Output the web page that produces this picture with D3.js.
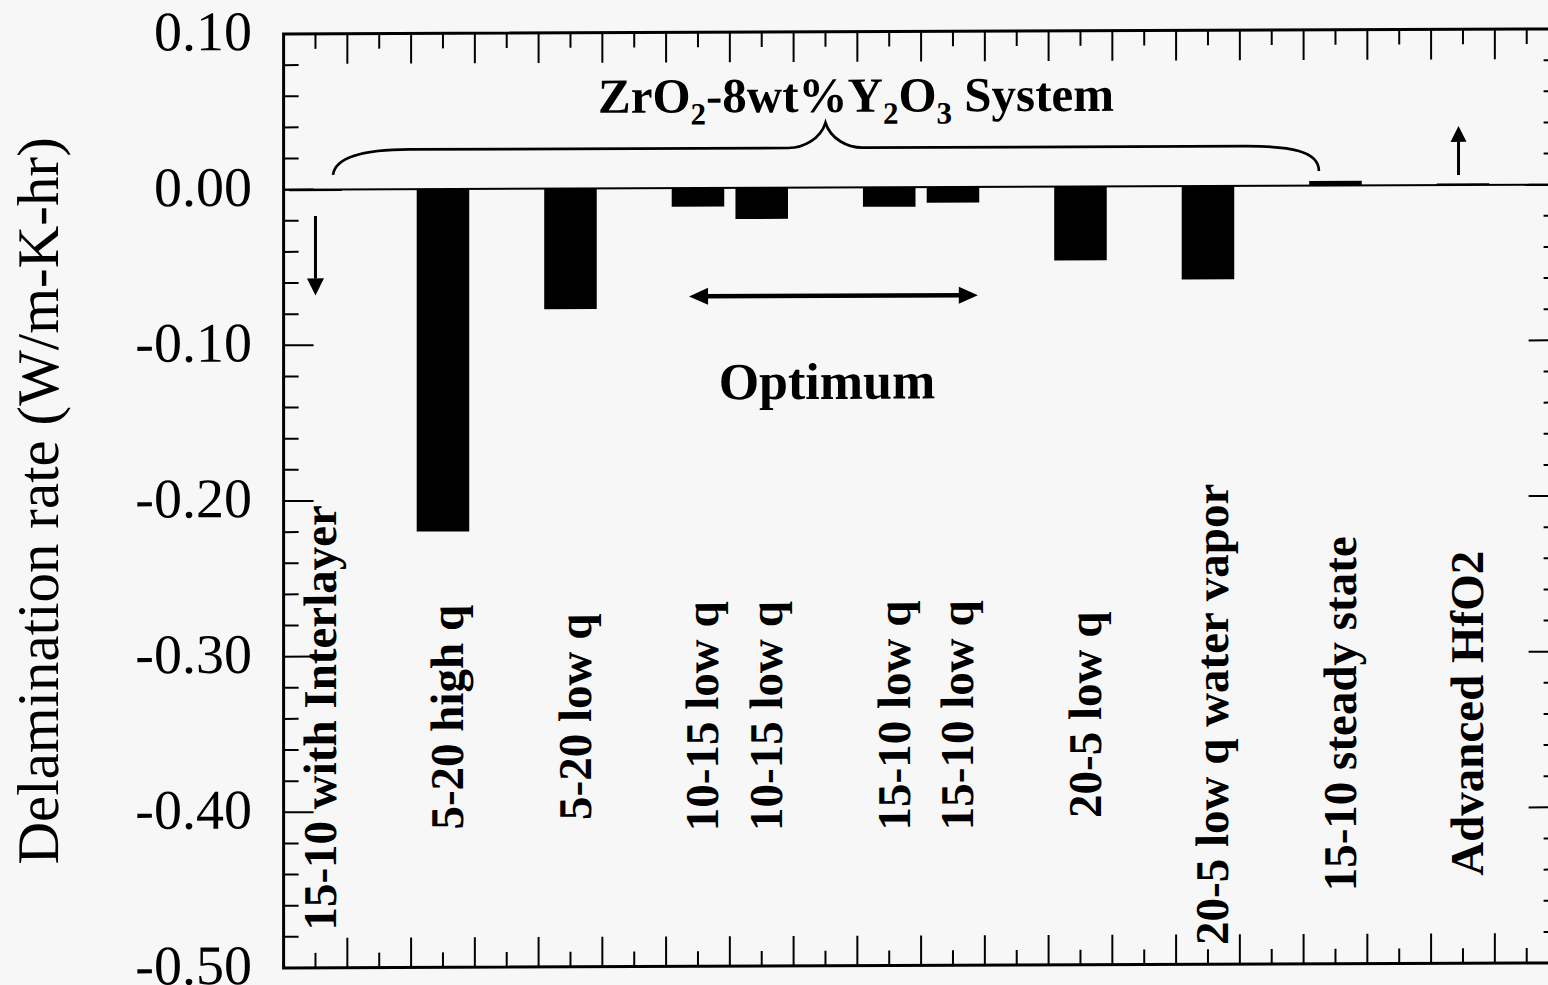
<!DOCTYPE html>
<html><head><meta charset="utf-8">
<script src="https://cdn.jsdelivr.net/npm/d3@7"></script>
<style>html,body{margin:0;padding:0;background:#f7f7f7;overflow:hidden;} svg{display:block;}</style>
</head><body><svg id="chart" width="1548" height="985"></svg>
<script>
// ---- data ----
const categories = ["15-10 with Interlayer", null, "5-20 high q", null, "5-20 low q", null,
  "10-15 low q", "10-15 low q", null, "15-10 low q", "15-10 low q", null,
  "20-5 low q", null, "20-5 low q water vapor", null, "15-10 steady state", null, "Advanced HfO2", null];
const values = [-0.001, null, -0.22, null, -0.0775, null,
  -0.012, -0.020, null, -0.0125, -0.010, null,
  -0.0475, null, -0.060, null, 0.003, null, 0.001, null];
const yTicks = [0.10, 0.00, -0.10, -0.20, -0.30, -0.40, -0.50];
const yTickLabels = ["0.10", "0.00", "-0.10", "-0.20", "-0.30", "-0.40", "-0.50"];
const yTitle = "Delamination rate (W/m-K-hr)";
const optimumLabel = "Optimum";

// ---- layout ----
const W = 1548, H = 985;
const pL = 283.6, pR = 1558.6, pT = 34, pB = 968;
const FONT = "'Liberation Serif','Times New Roman',Times,serif";

const svg = d3.select("#chart");
svg.append("rect").attr("width", W).attr("height", H).attr("fill", "#f7f7f7");
// the scanned original is slightly sheared
const g = svg.append("g")
  .attr("transform", `translate(${pL},0) skewY(-0.226) translate(${-pL},0)`);

const slots = d3.range(categories.length);
const x = d3.scaleBand().domain(slots).range([pL, pR]).paddingInner(0.176).paddingOuter(0.088);
const xs = d3.scaleLinear().domain([0, categories.length]).range([pL, pR]);
const y = d3.scaleLinear().domain([-0.5, 0.1]).range([pB, pT]);

// frame
g.append("rect").attr("x", pL).attr("y", pT).attr("width", pR - pL).attr("height", pB - pT)
  .attr("fill", "none").attr("stroke", "#000").attr("stroke-width", 3);

// x ticks (top & bottom, inward)
const xMajor = d3.range(1, categories.length);
const xMinor = slots.map(i => i + 0.5);
const tickG = g.append("g").attr("stroke", "#000").attr("stroke-width", 2);
[[xMajor, 30], [xMinor, 15]].forEach(([arr, len]) => {
  arr.forEach(v => {
    tickG.append("line").attr("x1", xs(v)).attr("x2", xs(v)).attr("y1", pB).attr("y2", pB - len);
    tickG.append("line").attr("x1", xs(v)).attr("x2", xs(v)).attr("y1", pT).attr("y2", pT + len);
  });
});
// y ticks (left & right, inward)
const yMinor = d3.range(-25, 6).map(k => k * 0.02).filter(v => !yTicks.some(t => Math.abs(t - v) < 1e-9));
[[yTicks, 30], [yMinor, 15]].forEach(([arr, len]) => {
  arr.forEach(v => {
    tickG.append("line").attr("x1", pL).attr("x2", pL + len).attr("y1", y(v)).attr("y2", y(v));
    tickG.append("line").attr("x1", pR).attr("x2", pR - len).attr("y1", y(v)).attr("y2", y(v));
  });
});

// y tick labels
g.append("g").selectAll("text").data(yTicks).join("text")
  .attr("x", 252).attr("y", d => y(d) + 16)
  .attr("text-anchor", "end").attr("font-family", FONT).attr("font-size", 56).attr("fill", "#000")
  .text((d, i) => yTickLabels[i]);

// y title
g.append("text").attr("transform", "translate(58,500) rotate(-90)")
  .attr("text-anchor", "middle").attr("font-family", FONT).attr("font-size", 59).attr("fill", "#000")
  .text(yTitle);

// zero line
g.append("line").attr("x1", pL).attr("x2", pR).attr("y1", y(0)).attr("y2", y(0))
  .attr("stroke", "#000").attr("stroke-width", 2);

// bars
const barData = slots.filter(i => values[i] !== null).map(i => ({ i, v: values[i], name: categories[i] }));
g.append("g").selectAll("rect").data(barData).join("rect")
  .attr("x", d => x(d.i)).attr("width", x.bandwidth())
  .attr("y", d => y(Math.max(0, d.v)))
  .attr("height", d => Math.abs(y(d.v) - y(0)))
  .attr("fill", "#000");

// category labels
g.append("g").selectAll("text").data(barData).join("text")
  .attr("transform", d => `translate(${x(d.i) + x.bandwidth() / 2 + 20.5},718) rotate(-90)`)
  .attr("text-anchor", "middle").attr("font-family", FONT).attr("font-weight", "bold")
  .attr("font-size", 47).attr("fill", "#000")
  .text(d => d.name);

// brace over the ZrO2 system
const bl = xs(0.775), br = xs(16.24), bm = xs(8.5);
const yH = y(0.0255), yE = y(0.0094), yC = y(0.0416);
const bp = d3.path();
bp.moveTo(bl, yE);
bp.bezierCurveTo(bl + 2, yH + 10, bl + 22, yH, bl + 77, yH);
bp.lineTo(bm - 37, yH);
bp.bezierCurveTo(bm - 22, yH, bm - 5, yH - 9, bm, yC);
bp.bezierCurveTo(bm + 5, yH - 9, bm + 22, yH, bm + 37, yH);
bp.lineTo(br - 74, yH);
bp.bezierCurveTo(br - 29, yH, br, yH + 5, br, yE);
g.append("path").attr("d", bp.toString()).attr("fill", "none").attr("stroke", "#000").attr("stroke-width", 2.7);

// title
const title = g.append("text").attr("x", 856).attr("y", 114).attr("text-anchor", "middle")
  .attr("font-family", FONT).attr("font-weight", "bold").attr("font-size", 49).attr("fill", "#000");
const parts = [["ZrO", false], ["2", true], ["-8wt%Y", false], ["2", true], ["O", false], ["3", true], [" System", false]];
let shifted = false;
parts.forEach(([t, sub]) => {
  const ts = title.append("tspan").text(t);
  if (sub && !shifted) { ts.attr("dy", 12).attr("font-size", 31); shifted = true; }
  else if (!sub && shifted) { ts.attr("dy", -12); shifted = false; }
  else if (sub) ts.attr("font-size", 31);
});

// arrows
function vArrow(xp, y0, y1, head, half, sw) {
  const dir = Math.sign(y1 - y0);
  g.append("line").attr("x1", xp).attr("x2", xp).attr("y1", y0).attr("y2", y1 - dir * head)
    .attr("stroke", "#000").attr("stroke-width", sw);
  g.append("path").attr("d", `M${xp},${y1}L${xp - half},${y1 - dir * head}L${xp + half},${y1 - dir * head}Z`).attr("fill", "#000");
}
vArrow(xs(0.5), y(-0.017), y(-0.068), 17, 8.5, 3);
vArrow(xs(18.43), y(0.0065), y(0.038), 16, 8, 3);

// Optimum double arrow
const ax0 = xs(6.36), ax1 = xs(10.89), ay = y(-0.0696);
g.append("line").attr("x1", ax0 + 15).attr("x2", ax1 - 15).attr("y1", ay).attr("y2", ay)
  .attr("stroke", "#000").attr("stroke-width", 4.5);
g.append("path").attr("d", `M${ax0},${ay}L${ax0 + 19},${ay - 8.5}L${ax0 + 19},${ay + 8.5}Z`).attr("fill", "#000");
g.append("path").attr("d", `M${ax1},${ay}L${ax1 - 19},${ay - 8.5}L${ax1 - 19},${ay + 8.5}Z`).attr("fill", "#000");
g.append("text").attr("x", 827).attr("y", 401).attr("text-anchor", "middle")
  .attr("font-family", FONT).attr("font-weight", "bold").attr("font-size", 52).attr("fill", "#000")
  .text(optimumLabel);
</script>
</body></html>
